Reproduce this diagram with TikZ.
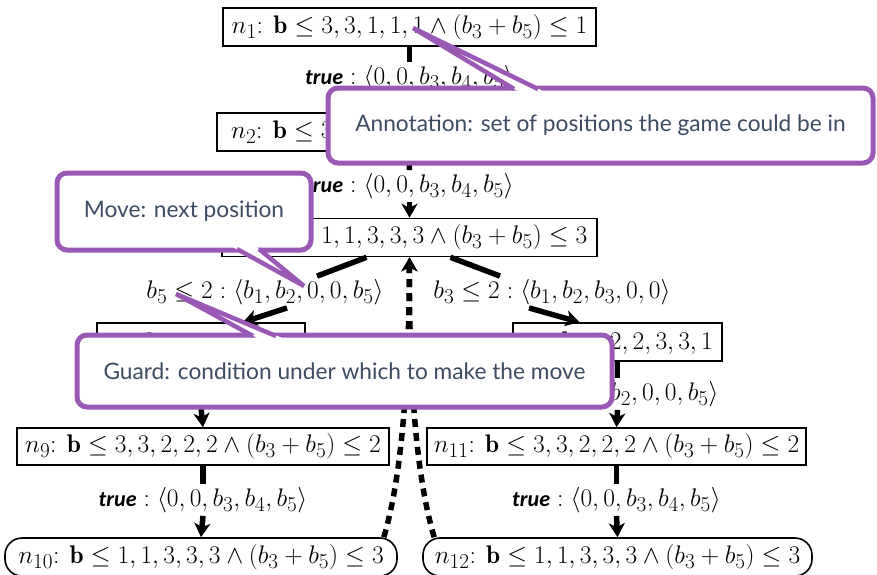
\documentclass[tikz,border=0pt]{standalone}
\usepackage{amsmath}
\usepackage{graphicx}
\usepackage{fontspec}
\newfontfamily\calloutfont{Lato}
\newfontfamily\truefont{Carlito}
\usetikzlibrary{arrows.meta}
\definecolor{callpurple}{HTML}{9B59B6}
\definecolor{calltxt}{HTML}{3D4C63}
\newcommand{\tru}{{\truefont\fontsize{21.6}{25}\selectfont\bfseries\itshape true}}
\newcommand{\sm}[1]{\scalebox{1.022}{#1}}
\begin{document}
\begin{tikzpicture}[x=1pt,y=-1pt,
  every node/.style={font=\fontsize{24.88}{30}\selectfont},
  nbox/.style={draw, line width=1.6pt, inner sep=0pt, minimum height=38pt},
  rbox/.style={nbox, rounded corners=17pt},
  lab/.style={inner sep=3pt},
  edgeline/.style={line width=5.5pt},
  arr/.style={line width=5.5pt, -{Stealth[length=14pt,width=16pt,inset=4pt]}},
  dasharr/.style={line width=5.5pt, dash pattern=on 8pt off 6pt, -{Stealth[length=14pt,width=16pt,inset=4pt]}},
  callbox/.style={draw=callpurple, fill=white, line width=5pt, rounded corners=10pt, inner sep=0pt,
     text=calltxt, font=\calloutfont\fontsize{22.7}{27}\selectfont},
  tailline/.style={draw=callpurple, line width=4.5pt, line join=miter}
]
\useasboundingbox (0,0) rectangle (877,574);

% ---------- tree nodes ----------
\node[nbox, minimum width=373pt] (n1) at (409.5,27) {\sm{$n_1$: $\mathbf{b} \le 3, 3, 1, 1, 1 \land (b_3 + b_5) \le 1$}};
\node[nbox, minimum width=384pt] (n2) at (409,132) {\sm{$n_2$: $\mathbf{b} \le 3, 3, 3, 3, 3 \land (b_3 + b_5) \le 3$}};
\node[nbox, minimum width=375pt] (n3) at (409.5,237.5) {\sm{$n_3$: $\mathbf{b} \le 1, 1, 3, 3, 3 \land (b_3 + b_5) \le 3$}};
\node[nbox, minimum width=208pt] (L) at (201,342) {};
\node[inner sep=0pt] (Lt) at (201,344) {\sm{$n_4$: $\mathbf{b} \le 3, 3, 2, 2, 1$}};
\node[nbox, minimum width=209pt] (R) at (617.5,342) {};
\node[inner sep=0pt, anchor=east] (Rt) at (713,343) {\sm{$n_5$: $\mathbf{b} \le 2, 2, 3, 3, 1$}};
\node[nbox, minimum width=372pt, minimum height=37pt] (n9) at (203,446.5) {\sm{$n_9$: $\mathbf{b} \le 3, 3, 2, 2, 2 \land (b_3 + b_5) \le 2$}};
\node[nbox, minimum width=379pt, minimum height=37pt] (n11) at (616.5,446.5) {\sm{$n_{11}$: $\mathbf{b} \le 3, 3, 2, 2, 2 \land (b_3 + b_5) \le 2$}};
\node[rbox, minimum width=392pt] (n10) at (201,557) {\sm{$n_{10}$: $\mathbf{b} \le 1, 1, 3, 3, 3 \land (b_3 + b_5) \le 3$}};
\node[rbox, minimum width=389pt] (n12) at (617.5,557) {\sm{$n_{12}$: $\mathbf{b} \le 1, 1, 3, 3, 3 \land (b_3 + b_5) \le 3$}};

% ---------- edge labels ----------
\node[lab] (l1) at (409.5,78) {\sm{\tru${}:{} \langle 0, 0, b_3, b_4, b_5\rangle$}};
\node[lab] (l2) at (409.5,186) {\sm{\tru${}:{} \langle 0, 0, b_3, b_4, b_5\rangle$}};
\node[lab] (l3) at (265,292) {\sm{$b_5 \le 2 : \langle b_1, b_2, 0, 0, b_5\rangle$}};
\node[lab] (l4) at (552,292) {\sm{$b_3 \le 2 : \langle b_1, b_2, b_3, 0, 0\rangle$}};
\node[lab] (l5) at (201,392) {\sm{$b_3 \le 2 : \langle b_1, b_2, b_3, 0, 0\rangle$}};
\node[lab] (l6) at (600,394) {\sm{$b_5 \le 2 : \langle b_1, b_2, 0, 0, b_5\rangle$}};
\node[lab] (l7) at (203,500) {\sm{\tru${}:{} \langle 0, 0, b_3, b_4, b_5\rangle$}};
\node[lab] (l8) at (616.5,500) {\sm{\tru${}:{} \langle 0, 0, b_3, b_4, b_5\rangle$}};

% ---------- edges ----------
\draw[edgeline] (n1.south) -- (l1.north);
\draw[arr] (l1.south) -- (n2.north);
\draw[edgeline] (n2.south) -- (l2.north);
\draw[arr] (l2.south) -- (n3.north);
\draw[edgeline] ([xshift=-43pt]n3.south) -- ([xshift=52pt]l3.north);
\draw[arr] ([xshift=22pt]l3.south) -- ([xshift=42pt]L.north);
\draw[edgeline] ([xshift=41pt]n3.south) -- ([xshift=-52pt]l4.north);
\draw[arr] ([xshift=-23pt]l4.south) -- ([xshift=-38pt]R.north);
\draw[edgeline] (L.south) -- (l5.north);
\draw[arr] (l5.south) -- (n9.north);
\draw[edgeline] (R.south) -- (R.south |- l6.north);
\draw[arr] (R.south |- l6.south) -- (n11.north);
\draw[edgeline] (n9.south) -- (l7.north);
\draw[arr] (l7.south) -- (n10.north);
\draw[edgeline] (n11.south) -- (l8.north);
\draw[arr] (l8.south) -- (n12.north);
\draw[dasharr] ([xshift=-14pt]n10.north east) .. controls (404,470) and (409,360) .. (n3.south);
\draw[dasharr] ([xshift=12pt]n12.north west) .. controls (414,470) and (409,360) .. (n3.south);

% ---------- callouts ----------
% Annotation
\node[callbox, minimum width=545pt, minimum height=75pt] (annot) at (600.5,125.5) {Annotation: set of positions the game could be in};
\coordinate (annTip) at (413,28);
\fill[white] (521,93) -- (annTip) -- (547,93) -- cycle;
\draw[tailline] (514,89) -- (annTip) -- (538,89);

% Move
\node[callbox, minimum width=254pt, minimum height=77pt] (move) at (184,211.5) {Move: next position};
\coordinate (moveTip) at (304,286);
\fill[white] (229,245) -- (moveTip) -- (254,245) -- cycle;
\draw[tailline] (237,249) -- (moveTip) -- (259,249);

% Guard
\node[callbox, minimum width=535pt, minimum height=72pt] (guard) at (344.5,371) {Guard: condition under which to make the move};
\coordinate (guardTip) at (176,294);
\fill[white] (261,340) -- (guardTip) -- (287,340) -- cycle;
\draw[tailline] (253,336) -- (guardTip) -- (276,336);
\end{tikzpicture}
\end{document}
